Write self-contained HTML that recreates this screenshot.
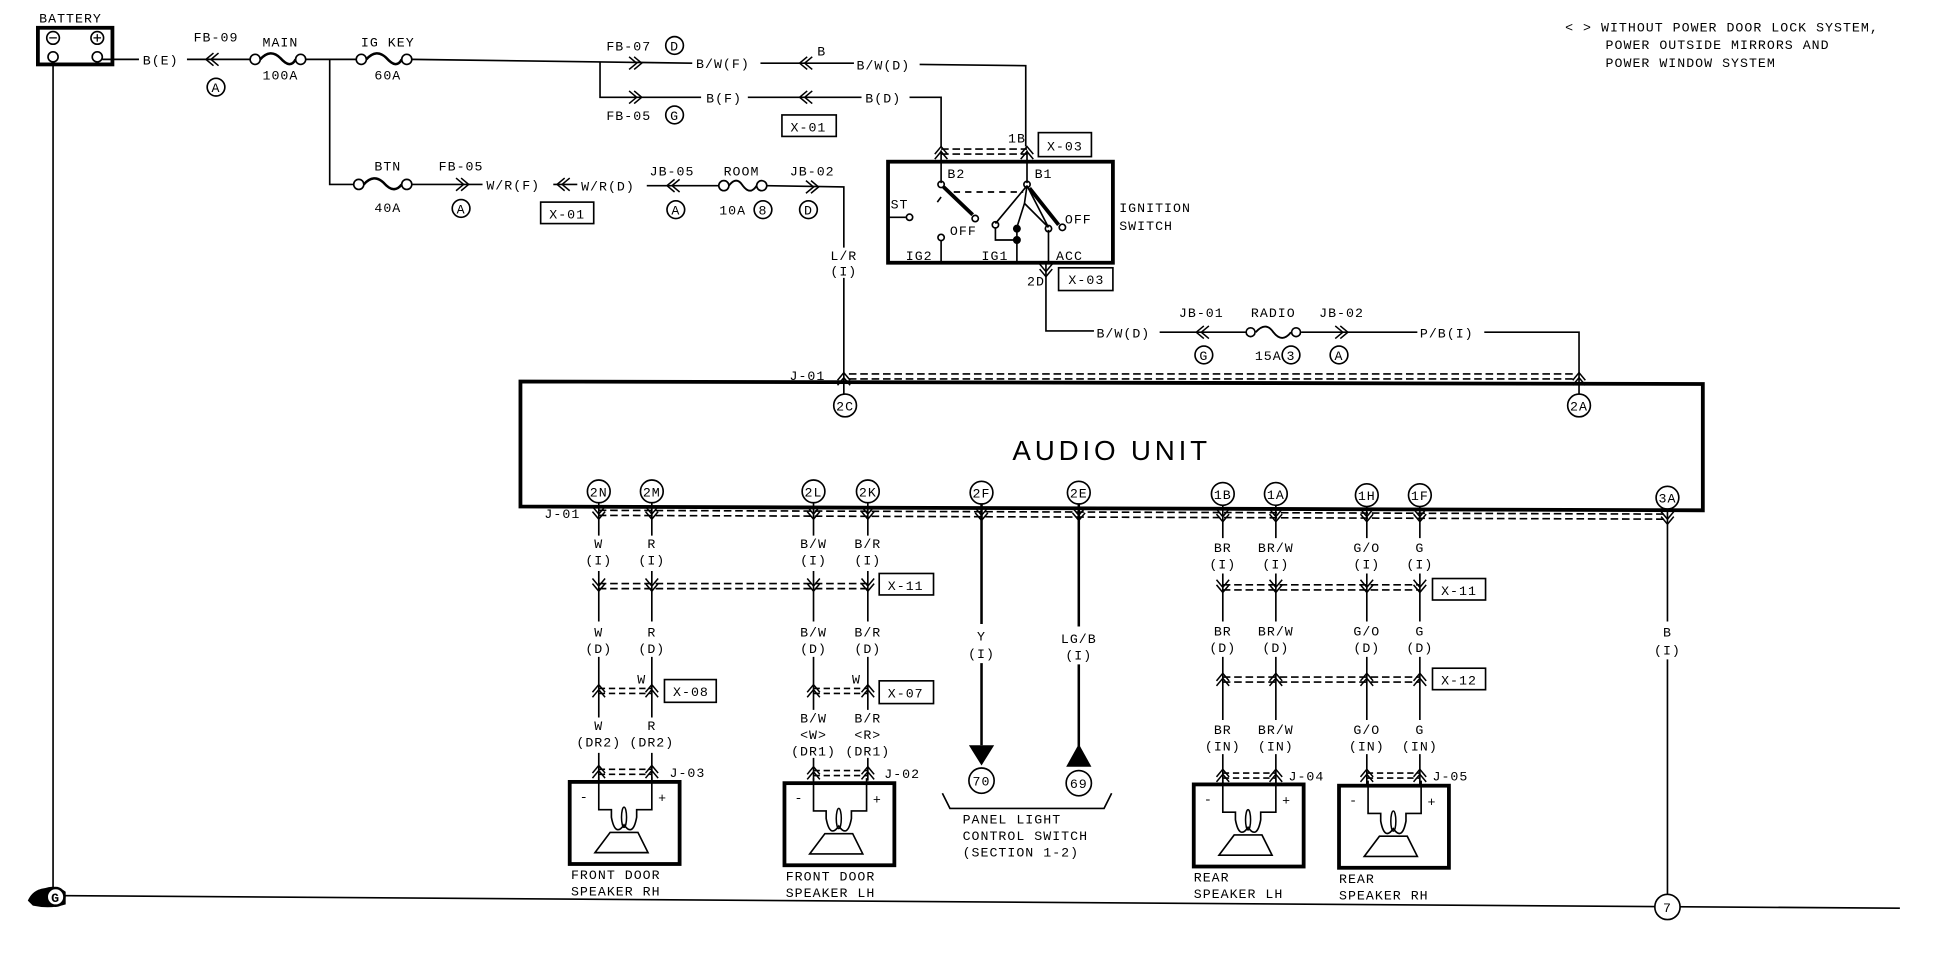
<!DOCTYPE html>
<html><head><meta charset="utf-8"><style>
html,body{margin:0;padding:0;background:#fff;}
svg{display:block;}
text{font-family:"Liberation Mono",monospace;font-size:10.5px;fill:#000;letter-spacing:0.8px;}
.c{text-anchor:middle;}
.big{font-family:"Liberation Sans",sans-serif;font-size:22px;letter-spacing:3px;}
</style></head><body>
<svg width="1958" height="960" viewBox="0 0 1550 760" preserveAspectRatio="none" xmlns="http://www.w3.org/2000/svg">
<defs>
<path id="cu" d="M-5,3 L0,-3 L5,3 M-5,7 L0,1 L5,7" fill="none" stroke="#000" stroke-width="1.2"/>
<path id="cd" d="M-5,-3 L0,3 L5,-3 M-5,-7 L0,-1 L5,-7" fill="none" stroke="#000" stroke-width="1.2"/>
<path id="cl" d="M3,-5 L-3,0 L3,5 M7,-5 L1,0 L7,5" fill="none" stroke="#000" stroke-width="1.2"/>
<path id="cr" d="M-3,-5 L3,0 L-3,5 M-7,-5 L-1,0 L-7,5" fill="none" stroke="#000" stroke-width="1.2"/>
<g id="spk">
<rect x="0" y="0" width="87" height="65" fill="none" stroke="#000" stroke-width="3"/>
<path d="M23,-4 L23,22 L33,22 L33,28 Q36,44 43,34 Q50,44 53,28 L53,22 L65,22 L65,-4" fill="none" stroke="#000" stroke-width="1.3"/>
<ellipse cx="43" cy="28" rx="2" ry="8" fill="none" stroke="#000" stroke-width="1.2"/>
<path d="M20,56 L32,40 L54,40 L62,56 Z" fill="none" stroke="#000" stroke-width="1.3"/>
<text x="8" y="15">-</text><text x="70" y="16">+</text>
</g>
</defs>
<g fill="none" stroke="#000" stroke-width="1.3">
<rect x="30" y="22" width="59" height="29" stroke-width="3"/>
<circle cx="42" cy="30" r="5"/><circle cx="77" cy="30" r="5"/>
<circle cx="42" cy="45" r="4"/><circle cx="77" cy="45" r="4"/>
<path d="M39,30 L45,30 M74,30 L80,30 M77,27 L77,33" stroke-width="1"/>
<line x1="42" y1="49" x2="42" y2="709"/>
<path d="M81,47 L110,47 M148,47 L198,47"/>
<circle cx="202" cy="47" r="4"/><circle cx="238" cy="47" r="4"/>
<path d="M206,47 Q214,38 222,46 Q230,55 234,47" stroke-width="2"/>
<path d="M242,47 L282,47"/>
<circle cx="286" cy="47" r="4"/><circle cx="322" cy="47" r="4"/>
<path d="M290,47 Q298,38 306,46 Q314,55 318,47" stroke-width="2"/>
<path d="M326,47 L475,49 L548,50 M602,50 L676,50 M728,51 L812,52 L812,116"/>
<path d="M475,49 L475,77 L555,77 M592,77 L682,77 M720,77 L745,77 L745,116"/>
<path d="M261,47 L261,146 L280,146"/>
<circle cx="284" cy="146" r="4"/><circle cx="322" cy="146" r="4"/>
<path d="M288,146 Q296,137 304,145 Q312,154 318,146" stroke-width="2"/>
<path d="M326,146 L382,146 M438,146 L457,146 M512,147 L569,147"/>
<circle cx="573" cy="147" r="4"/><circle cx="603" cy="147" r="4"/>
<path d="M577,147 Q583,139 588,147 Q594,155 599,147" stroke-width="1.5"/>
<path d="M607,147 L668,148 L668,196 M668,220 L668,300"/>
<rect x="703" y="128" width="178" height="80" stroke-width="3"/>
<path d="M745,119 L745,145 M813,119 L813,145"/>
<circle cx="745" cy="146" r="2.5"/><circle cx="813" cy="146" r="2.5"/>
<path d="M747,148 L770,170" stroke-width="3"/>
<circle cx="772" cy="173" r="2.5"/>
<path d="M703,172 L717,172"/><circle cx="720" cy="172" r="2.5"/>
<circle cx="745" cy="188" r="2.5"/><path d="M745,190 L745,208"/>
<path d="M813,147 L788,177 M813,147 L811,161 L805,180 M811,161 L830,180 M813,147 L830,180"/>
<path d="M815,149 L838,178" stroke-width="3"/>
<circle cx="841" cy="180" r="2.5"/>
<circle cx="788" cy="178" r="2.5"/><circle cx="805" cy="181" r="2.5" fill="#000"/><circle cx="805" cy="190" r="2.5" fill="#000"/>
<path d="M788,180 L788,190 L805,190 M805,183 L805,208 M830,182 L830,208"/>
<circle cx="830" cy="181" r="2.5"/>
<path d="M755,152 L810,152" stroke-dasharray="5 4"/>
<path d="M742,160 L745,156"/>
<path d="M828,208 L828,262 L866,262 M918,263 L986,263"/>
<circle cx="990" cy="263" r="3.5"/><circle cx="1026" cy="263" r="3.5"/>
<path d="M994,263 Q1002,254 1008,263 Q1015,272 1022,263" stroke-width="1.5"/>
<path d="M1030,263 L1122,263 M1175,263 L1250,263 L1250,300"/>
<path d="M412,302 L1348,304 L1348,404 L412,401 Z" stroke-width="3"/>
<path d="M672,296 L1248,296 M672,300 L1248,300" stroke-dasharray="6 3"/>
<path d="M668,300 L668,312 M1250,300 L1250,312"/>
<path d="M474,404 L1320,407 M474,408 L1320,411" stroke-dasharray="6 3"/>
<circle cx="669" cy="321" r="9"/><circle cx="1250" cy="321" r="9"/>
<circle cx="474" cy="389" r="9"/><circle cx="516" cy="389" r="9"/><circle cx="644" cy="389" r="9"/><circle cx="687" cy="389" r="9"/>
<circle cx="777" cy="390" r="9"/><circle cx="854" cy="390" r="9"/><circle cx="968" cy="391" r="9"/><circle cx="1010" cy="391" r="9"/>
<circle cx="1082" cy="392" r="9"/><circle cx="1124" cy="392" r="9"/><circle cx="1320" cy="394" r="9"/>
<path d="M474,398 L474,424 M474,452 L474,492 M474,520 L474,568 M474,596 L474,618"/>
<path d="M516,398 L516,424 M516,452 L516,492 M516,520 L516,568 M516,596 L516,618"/>
<path d="M644,398 L644,424 M644,452 L644,492 M644,520 L644,562 M644,600 L644,618"/>
<path d="M687,398 L687,424 M687,452 L687,492 M687,520 L687,562 M687,600 L687,618"/>
<path d="M968,400 L968,426 M968,454 L968,492 M968,520 L968,570 M968,597 L968,621"/>
<path d="M1010,400 L1010,426 M1010,454 L1010,492 M1010,520 L1010,570 M1010,597 L1010,621"/>
<path d="M1082,401 L1082,426 M1082,454 L1082,492 M1082,520 L1082,570 M1082,597 L1082,621"/>
<path d="M1124,401 L1124,426 M1124,454 L1124,492 M1124,520 L1124,570 M1124,597 L1124,621"/>
<path d="M777,399 L777,494 M777,525 L777,590" stroke-width="2"/>
<path d="M854,399 L854,496 M854,526 L854,600" stroke-width="2"/>
<path d="M1320,403 L1320,492 M1320,522 L1320,709"/>
<path d="M474,462 L687,462 M474,466 L687,466" stroke-dasharray="6 3"/>
<path d="M968,463 L1124,463 M968,467 L1124,467" stroke-dasharray="6 3"/>
<path d="M474,545 L516,545 M474,549 L516,549" stroke-dasharray="5 3"/>
<path d="M644,545 L687,545 M644,549 L687,549" stroke-dasharray="5 3"/>
<path d="M968,536 L1124,536 M968,540 L1124,540" stroke-dasharray="6 3"/>
<path d="M474,609 L516,609 M474,613 L516,613" stroke-dasharray="5 3"/>
<path d="M644,610 L687,610 M644,614 L687,614" stroke-dasharray="5 3"/>
<path d="M968,612 L1010,612 M968,616 L1010,616" stroke-dasharray="5 3"/>
<path d="M1082,612 L1124,612 M1082,616 L1124,616" stroke-dasharray="5 3"/>
<path d="M745,118 L813,118 M745,122 L813,122" stroke-dasharray="6 3"/>
<rect x="619" y="91" width="43" height="17"/>
<rect x="428" y="160" width="42" height="17"/>
<rect x="822" y="105" width="42" height="19"/>
<rect x="838" y="212" width="43" height="18"/>
<rect x="696" y="454" width="43" height="17"/>
<rect x="526" y="538" width="41" height="18"/>
<rect x="696" y="539" width="43" height="18"/>
<rect x="1134" y="458" width="42" height="17"/>
<rect x="1134" y="529" width="42" height="17"/>
<circle cx="171" cy="69" r="7"/><circle cx="534" cy="36" r="7"/><circle cx="534" cy="91" r="7"/>
<circle cx="365" cy="165" r="7"/><circle cx="535" cy="166" r="7"/><circle cx="604" cy="166" r="7"/><circle cx="640" cy="166" r="7"/>
<circle cx="953" cy="281" r="7"/><circle cx="1022" cy="281" r="7"/><circle cx="1060" cy="281" r="7"/>
<circle cx="777" cy="618" r="10"/><circle cx="854" cy="620" r="10"/>
<path d="M746,628 L752,640 L874,640 L880,628"/>
<path d="M40,709 L1504,719"/>
<circle cx="1320" cy="718" r="10" fill="#fff"/>
</g>
<path d="M767,590 L787,590 L777,606 Z" fill="#000"/>
<path d="M844,607 L864,607 L854,589 Z" fill="#000"/>
<path d="M22,713 Q26,704 36,703 Q44,700 52,706 L52,716 Q40,720 26,717 Z" fill="#000"/>
<circle cx="44" cy="710" r="7" fill="#fff" stroke="#000" stroke-width="2"/>
<use href="#cl" x="166" y="47"/><use href="#cr" x="505" y="50"/><use href="#cl" x="636" y="50"/>
<use href="#cr" x="505" y="77"/><use href="#cl" x="636" y="77"/>
<use href="#cr" x="368" y="146"/><use href="#cl" x="444" y="146"/><use href="#cl" x="531" y="147"/><use href="#cr" x="645" y="148"/>
<use href="#cu" x="745" y="119"/><use href="#cu" x="813" y="119"/><use href="#cd" x="828" y="216"/>
<use href="#cl" x="950" y="263"/><use href="#cr" x="1064" y="263"/>
<use href="#cu" x="668" y="298"/><use href="#cu" x="1250" y="298"/>
<use href="#cd" x="474" y="408"/><use href="#cd" x="516" y="408"/><use href="#cd" x="644" y="408"/><use href="#cd" x="687" y="408"/>
<use href="#cd" x="777" y="409"/><use href="#cd" x="854" y="409"/><use href="#cd" x="968" y="410"/><use href="#cd" x="1010" y="410"/>
<use href="#cd" x="1082" y="410"/><use href="#cd" x="1124" y="410"/><use href="#cd" x="1320" y="412"/>
<use href="#cd" x="474" y="465"/><use href="#cd" x="516" y="465"/><use href="#cd" x="644" y="465"/><use href="#cd" x="687" y="465"/>
<use href="#cd" x="968" y="466"/><use href="#cd" x="1010" y="466"/><use href="#cd" x="1082" y="466"/><use href="#cd" x="1124" y="466"/>
<use href="#cu" x="474" y="545"/><use href="#cu" x="516" y="545"/><use href="#cu" x="644" y="545"/><use href="#cu" x="687" y="545"/>
<use href="#cu" x="968" y="536"/><use href="#cu" x="1010" y="536"/><use href="#cu" x="1082" y="536"/><use href="#cu" x="1124" y="536"/>
<use href="#cu" x="474" y="609"/><use href="#cu" x="516" y="609"/><use href="#cu" x="644" y="610"/><use href="#cu" x="687" y="610"/>
<use href="#cu" x="968" y="612"/><use href="#cu" x="1010" y="612"/><use href="#cu" x="1082" y="612"/><use href="#cu" x="1124" y="612"/>
<use href="#spk" x="451" y="619"/><use href="#spk" x="621" y="620"/><use href="#spk" x="945" y="621"/><use href="#spk" x="1060" y="622"/>
<text x="31" y="18">BATTERY</text>
<text x="113" y="51">B(E)</text>
<text x="171" y="33" class="c">FB-09</text><text x="171" y="73" class="c" font-size="9">A</text>
<text x="222" y="37" class="c">MAIN</text><text x="222" y="63" class="c">100A</text>
<text x="307" y="37" class="c">IG KEY</text><text x="307" y="63" class="c">60A</text>
<text x="480" y="40">FB-07</text><text x="534" y="40" class="c" font-size="9">D</text>
<text x="480" y="95">FB-05</text><text x="534" y="95" class="c" font-size="9">G</text>
<text x="551" y="54">B/W(F)</text><text x="647" y="44">B</text><text x="678" y="55">B/W(D)</text>
<text x="559" y="81">B(F)</text><text x="685" y="81">B(D)</text>
<text x="640" y="104" class="c">X-01</text>
<text x="307" y="135" class="c">BTN</text><text x="307" y="168" class="c">40A</text>
<text x="365" y="135" class="c">FB-05</text><text x="365" y="169" class="c" font-size="9">A</text>
<text x="385" y="150">W/R(F)</text><text x="460" y="151">W/R(D)</text>
<text x="449" y="173" class="c">X-01</text>
<text x="532" y="139" class="c">JB-05</text><text x="535" y="170" class="c" font-size="9">A</text>
<text x="587" y="139" class="c">ROOM</text><text x="580" y="170" class="c">10A</text><text x="604" y="170" class="c" font-size="9">8</text>
<text x="643" y="139" class="c">JB-02</text><text x="640" y="170" class="c" font-size="9">D</text>
<text x="668" y="206" class="c">L/R</text><text x="668" y="218" class="c">(I)</text>
<text x="798" y="113">1B</text><text x="843" y="119" class="c">X-03</text>
<text x="750" y="141">B2</text><text x="819" y="141">B1</text>
<text x="705" y="165">ST</text><text x="752" y="186">OFF</text><text x="843" y="177">OFF</text>
<text x="717" y="206">IG2</text><text x="777" y="206">IG1</text><text x="836" y="206">ACC</text>
<text x="886" y="168">IGNITION</text><text x="886" y="182">SWITCH</text>
<text x="813" y="226">2D</text><text x="860" y="225" class="c">X-03</text>
<text x="868" y="267">B/W(D)</text>
<text x="951" y="251" class="c">JB-01</text><text x="953" y="285" class="c" font-size="9">G</text>
<text x="1008" y="251" class="c">RADIO</text><text x="1004" y="285" class="c">15A</text><text x="1022" y="285" class="c" font-size="9">3</text>
<text x="1062" y="251" class="c">JB-02</text><text x="1060" y="285" class="c" font-size="9">A</text>
<text x="1124" y="267">P/B(I)</text>
<text x="1239" y="25">&lt; &gt; WITHOUT POWER DOOR LOCK SYSTEM,</text>
<text x="1271" y="39">POWER OUTSIDE MIRRORS AND</text>
<text x="1271" y="53">POWER WINDOW SYSTEM</text>
<text x="625" y="301">J-01</text><text x="431" y="410">J-01</text>
<text x="669" y="325" class="c" font-size="9">2C</text><text x="1250" y="325" class="c" font-size="9">2A</text>
<text x="880" y="364" class="c big">AUDIO UNIT</text>
<text x="474" y="393" class="c" font-size="9">2N</text><text x="516" y="393" class="c" font-size="9">2M</text>
<text x="644" y="393" class="c" font-size="9">2L</text><text x="687" y="393" class="c" font-size="9">2K</text>
<text x="777" y="394" class="c" font-size="9">2F</text><text x="854" y="394" class="c" font-size="9">2E</text>
<text x="968" y="395" class="c" font-size="9">1B</text><text x="1010" y="395" class="c" font-size="9">1A</text>
<text x="1082" y="396" class="c" font-size="9">1H</text><text x="1124" y="396" class="c" font-size="9">1F</text>
<text x="1320" y="398" class="c" font-size="9">3A</text>
<text x="474" y="434" class="c">W</text><text x="474" y="447" class="c">(I)</text>
<text x="516" y="434" class="c">R</text><text x="516" y="447" class="c">(I)</text>
<text x="644" y="434" class="c">B/W</text><text x="644" y="447" class="c">(I)</text>
<text x="687" y="434" class="c">B/R</text><text x="687" y="447" class="c">(I)</text>
<text x="968" y="437" class="c">BR</text><text x="968" y="450" class="c">(I)</text>
<text x="1010" y="437" class="c">BR/W</text><text x="1010" y="450" class="c">(I)</text>
<text x="1082" y="437" class="c">G/O</text><text x="1082" y="450" class="c">(I)</text>
<text x="1124" y="437" class="c">G</text><text x="1124" y="450" class="c">(I)</text>
<text x="717" y="467" class="c">X-11</text><text x="1155" y="471" class="c">X-11</text>
<text x="474" y="504" class="c">W</text><text x="474" y="517" class="c">(D)</text>
<text x="516" y="504" class="c">R</text><text x="516" y="517" class="c">(D)</text>
<text x="644" y="504" class="c">B/W</text><text x="644" y="517" class="c">(D)</text>
<text x="687" y="504" class="c">B/R</text><text x="687" y="517" class="c">(D)</text>
<text x="968" y="503" class="c">BR</text><text x="968" y="516" class="c">(D)</text>
<text x="1010" y="503" class="c">BR/W</text><text x="1010" y="516" class="c">(D)</text>
<text x="1082" y="503" class="c">G/O</text><text x="1082" y="516" class="c">(D)</text>
<text x="1124" y="503" class="c">G</text><text x="1124" y="516" class="c">(D)</text>
<text x="777" y="507" class="c">Y</text><text x="777" y="521" class="c">(I)</text>
<text x="854" y="509" class="c">LG/B</text><text x="854" y="522" class="c">(I)</text>
<text x="1320" y="504" class="c">B</text><text x="1320" y="518" class="c">(I)</text>
<text x="508" y="541" class="c">W</text><text x="678" y="541" class="c">W</text>
<text x="547" y="551" class="c">X-08</text><text x="717" y="552" class="c">X-07</text><text x="1155" y="542" class="c">X-12</text>
<text x="474" y="578" class="c">W</text><text x="474" y="591" class="c">(DR2)</text>
<text x="516" y="578" class="c">R</text><text x="516" y="591" class="c">(DR2)</text>
<text x="644" y="572" class="c">B/W</text><text x="644" y="585" class="c">&lt;W&gt;</text><text x="644" y="598" class="c">(DR1)</text>
<text x="687" y="572" class="c">B/R</text><text x="687" y="585" class="c">&lt;R&gt;</text><text x="687" y="598" class="c">(DR1)</text>
<text x="968" y="581" class="c">BR</text><text x="968" y="594" class="c">(IN)</text>
<text x="1010" y="581" class="c">BR/W</text><text x="1010" y="594" class="c">(IN)</text>
<text x="1082" y="581" class="c">G/O</text><text x="1082" y="594" class="c">(IN)</text>
<text x="1124" y="581" class="c">G</text><text x="1124" y="594" class="c">(IN)</text>
<text x="530" y="615">J-03</text><text x="700" y="616">J-02</text><text x="1020" y="618">J-04</text><text x="1134" y="618">J-05</text>
<text x="777" y="622" class="c" font-size="9">70</text><text x="854" y="624" class="c" font-size="9">69</text>
<text x="762" y="652">PANEL LIGHT</text><text x="762" y="665">CONTROL SWITCH</text><text x="762" y="678">(SECTION 1-2)</text>
<text x="452" y="696">FRONT DOOR</text><text x="452" y="709">SPEAKER RH</text>
<text x="622" y="697">FRONT DOOR</text><text x="622" y="710">SPEAKER LH</text>
<text x="945" y="698">REAR</text><text x="945" y="711">SPEAKER LH</text>
<text x="1060" y="699">REAR</text><text x="1060" y="712">SPEAKER RH</text>
<text x="44" y="714" class="c" font-size="9" font-weight="bold">G</text>
<text x="1320" y="722" class="c" font-size="9">7</text>
</svg>
</body></html>
